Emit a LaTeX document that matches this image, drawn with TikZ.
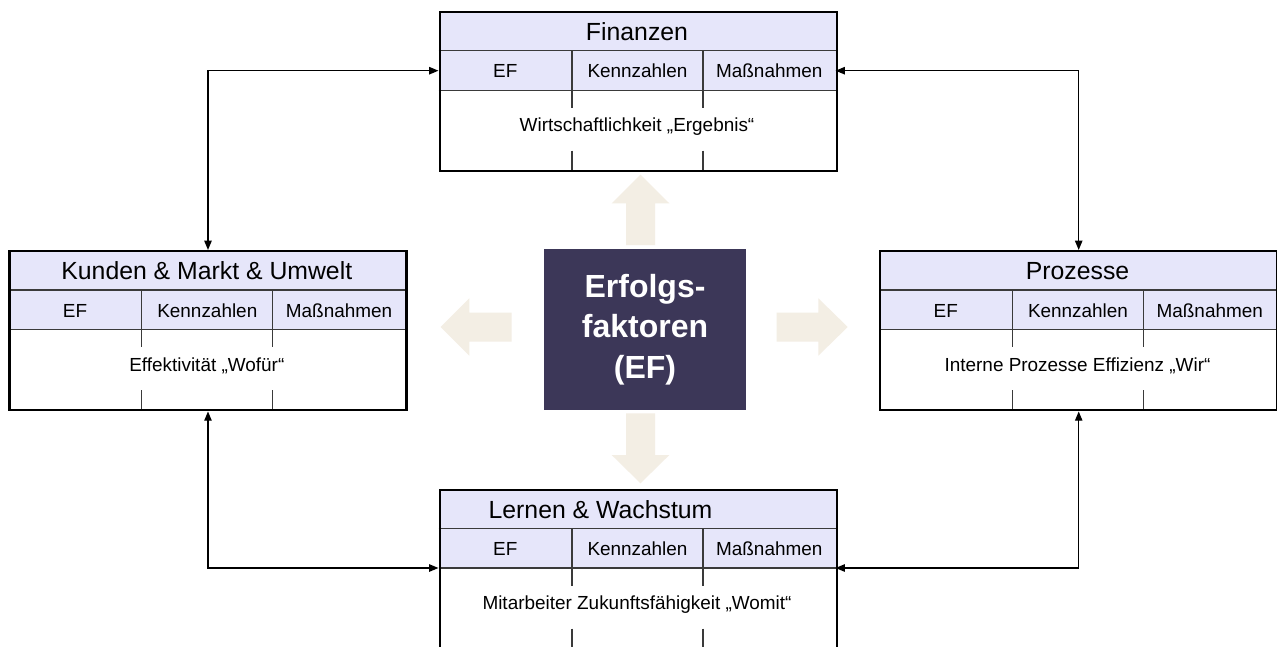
\documentclass[tikz,border=0pt]{standalone}
\usepackage{fontspec}
\setmainfont{Liberation Sans}
\usetikzlibrary{arrows.meta}
\definecolor{bandfill}{HTML}{E6E6FA}
\definecolor{corefill}{HTML}{3C3758}
\definecolor{fatarrow}{HTML}{F3EEE4}
\definecolor{rulegray}{HTML}{3A3A3A}
\tikzset{
  panelframe/.style={draw=black, line width=1.8pt, minimum width=297.75pt,
    minimum height=119.25pt, anchor=north west, inner sep=0pt},
  bandrule/.style={draw=rulegray, line width=0.8pt},
  titletext/.style={font=\fontsize{18.6}{22}\selectfont, inner sep=0pt},
  celltext/.style={font=\fontsize{14.2}{17}\selectfont, inner sep=0pt},
  link/.style={line width=1.1pt,
    {Triangle[length=7pt,width=5.5pt]}-{Triangle[length=7pt,width=5.5pt]}},
  bigarrow/.style={fill=fatarrow, draw=none},
  core/.style={fill=corefill, draw=none, text=white, align=center,
    minimum width=151pt, minimum height=120.5pt, inner sep=0pt,
    font=\bfseries\fontsize{24}{30.6}\selectfont}
}
% One perspective panel: name, left, top, title x, title, body text
\newcommand\bscpanel[6]{%
  \begin{scope}[shift={(#2,#3)}]
    \fill[bandfill] (0,0) rectangle (397,79.5);
    \draw[bandrule] (0,40) -- (397,40) (0,79.5) -- (397,79.5)
      (133.5,40) -- (133.5,97) (133.5,140) -- (133.5,159)
      (264.5,40) -- (264.5,97) (264.5,140) -- (264.5,159);
    \node[titletext] (#1-title) at (#4,21) {#5};
    \node[celltext] (#1-ef) at (66.75,60.5) {EF};
    \node[celltext] (#1-kz) at (199,60.5) {Kennzahlen};
    \node[celltext] (#1-mn) at (330.75,60.5) {Maßnahmen};
    \node[celltext] (#1-body) at (198.5,116) {#6};
    \node[panelframe] (#1) at (0,0) {};
    \coordinate (#1-hl) at (0,60);
    \coordinate (#1-hr) at (397,60);
    \coordinate (#1-bl) at (0,79.5);
    \coordinate (#1-br) at (397,79.5);
  \end{scope}}
\begin{document}
\begin{tikzpicture}[x=0.75pt, y=-0.75pt]
  \clip (0,0) rectangle (1277,646);
  \fill[white] (0,0) rectangle (1277,646);

  % the four perspectives
  \bscpanel{finanzen}{438.5}{10.7}{198.5}{Finanzen}{Wirtschaftlichkeit „Ergebnis“}
  \bscpanel{kunden}{8.3}{250}{198.5}{Kunden \& Markt \& Umwelt}{Effektivität „Wofür“}
  \bscpanel{prozesse}{879}{250}{198.5}{Prozesse}{Interne Prozesse Effizienz „Wir“}
  \bscpanel{lernen}{438.5}{488.5}{162}{Lernen \& Wachstum}{Mitarbeiter Zukunftsfähigkeit „Womit“}

  % broad arrows radiating from the centre
  \fill[bigarrow] (626,245) -- (626,203.3) -- (611.7,203.3) -- (640.5,174.7)
    -- (669.3,203.3) -- (655,203.3) -- (655,245) -- cycle;
  \fill[bigarrow] (626,413.3) -- (626,455) -- (611.7,455) -- (640.5,483.3)
    -- (669.3,455) -- (655,455) -- (655,413.3) -- cycle;
  \fill[bigarrow] (511.7,312.7) -- (469.3,312.7) -- (469.3,298.3) -- (440.7,327)
    -- (469.3,355.7) -- (469.3,341.7) -- (511.7,341.7) -- cycle;
  \fill[bigarrow] (776.7,312.7) -- (818.3,312.7) -- (818.3,298.3) -- (847.7,327)
    -- (818.3,355.7) -- (818.3,341.7) -- (776.7,341.7) -- cycle;

  % central box
  \node[core] (core) at (645,329.7) {Erfolgs-\\faktoren\\(EF)};

  % links between the perspectives
  \draw[link] (kunden.north) |- (finanzen-hl);
  \draw[link] (prozesse.north) |- (finanzen-hr);
  \draw[link] (kunden.south) |- (lernen-bl);
  \draw[link] (prozesse.south) |- (lernen-br);
\end{tikzpicture}
\end{document}
